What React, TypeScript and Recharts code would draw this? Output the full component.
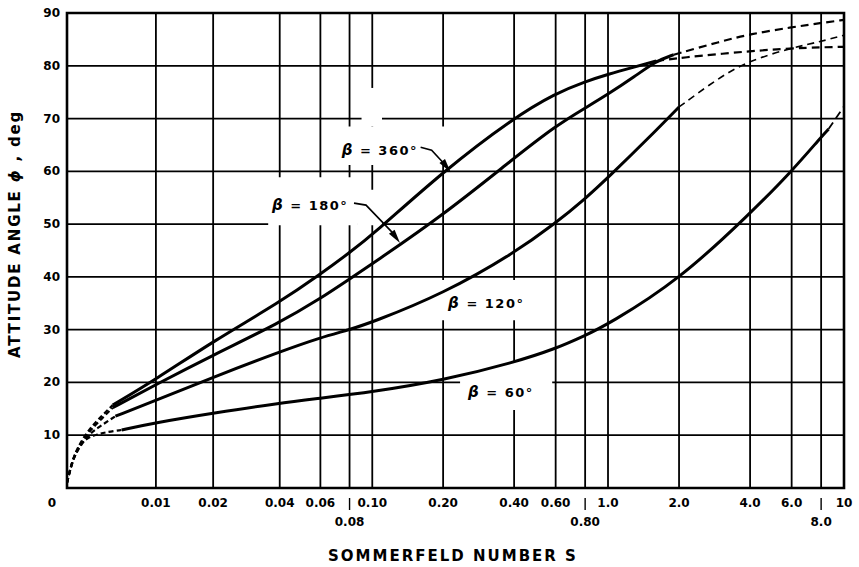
import React from 'react';
import { LineChart, Line, XAxis, YAxis, CartesianGrid, ReferenceArea, ReferenceDot } from 'recharts';

// Sommerfeld axis: log spacing for large S, running smoothly into 0 (asinh form)
const K = 0.0102;
const xu = (s: number) => Math.log10((s + Math.sqrt(s * s + K * K)) / K);

const X_TICKS = [0, 0.01, 0.02, 0.04, 0.06, 0.08, 0.1, 0.2, 0.4, 0.6, 0.8, 1, 2, 4, 6, 8, 10];
const X_LABELS = ['0', '0.01', '0.02', '0.04', '0.06', '0.08', '0.10', '0.20', '0.40', '0.60', '0.80', '1.0', '2.0', '4.0', '6.0', '8.0', '10'];
const X_LOWER_ROW = ['0.08', '0.80', '8.0'];
const Y_TICKS = [0, 10, 20, 30, 40, 50, 60, 70, 80, 90];

// beta = 360 deg
const S360_LOW = [0, 0.0005, 0.001, 0.002, 0.003, 0.0047];
const P360_LOW = [1, 5, 7.5, 10.6, 12.7, 15.7];
const S360 = [0.0047, 0.01, 0.02, 0.04, 0.06, 0.08, 0.1, 0.2, 0.4, 0.6, 0.8, 1.0, 1.3, 1.6];
const P360 = [15.7, 20.6, 27.8, 35.2, 40.5, 44.6, 47.9, 60, 70.2, 74.8, 77, 78.4, 79.8, 80.9];
const S360_HIGH = [1.6, 2, 4, 6, 8, 10];
const P360_HIGH = [80.9, 81.5, 82.8, 83.3, 83.5, 83.6];

// beta = 180 deg
const S180_LOW = [0, 0.0005, 0.001, 0.002, 0.003, 0.0047];
const P180_LOW = [1, 5, 7.3, 10.2, 12.2, 15.2];
const S180 = [0.0047, 0.01, 0.02, 0.04, 0.06, 0.08, 0.1, 0.2, 0.4, 0.6, 0.8, 1.0, 1.3, 1.6, 1.9];
const P180 = [15.2, 19.6, 25.2, 31.3, 35.9, 39.6, 42.5, 51.7, 62.5, 68.6, 72, 74.6, 78, 80.9, 82.1];
const S180_HIGH = [1.9, 3, 4, 6, 8, 10];
const P180_HIGH = [82.1, 84.6, 86, 87.3, 88.1, 88.7];

// beta = 120 deg
const S120_LOW = [0, 0.0005, 0.001, 0.002, 0.003, 0.005];
const P120_LOW = [1, 5, 7, 9.8, 11.3, 13.6];
const S120 = [0.005, 0.01, 0.02, 0.04, 0.06, 0.08, 0.1, 0.2, 0.4, 0.6, 0.8, 1.0, 1.5, 2.0];
const P120 = [13.6, 16.6, 21, 25.8, 28.5, 30, 31.4, 36.8, 44.5, 50.2, 54.8, 58.8, 66.5, 72.2];
const S120_HIGH = [2, 3, 4, 6, 8, 10];
const P120_HIGH = [72.2, 78, 81, 83.4, 84.6, 85.8];

// beta = 60 deg
const S60_LOW = [0, 0.0005, 0.001, 0.0013, 0.002, 0.003, 0.004, 0.0057];
const P60_LOW = [1, 4.8, 7, 8.2, 9.5, 10.1, 10.6, 11];
const S60 = [0.0057, 0.01, 0.02, 0.04, 0.06, 0.1, 0.2, 0.4, 0.6, 0.8, 1.0, 2.0, 4.0, 6.0, 8.0, 8.6];
const P60 = [11, 12.4, 14.2, 16.1, 17, 18.2, 20.4, 23.8, 26.4, 28.9, 31, 39.4, 52, 60, 66.5, 68];
const S60_HIGH = [8.6, 10];
const P60_HIGH = [68, 72.3];

const seg = (s: number[], p: number[]) => s.map((v, i) => ({ u: xu(v), phi: p[i] }));

const FONT = 'DejaVu Sans, Verdana, sans-serif';
const INK = '#000';

// curve labels: text start (S, phi), plus arrow offsets in px
const LABELS = [
  { s: 0.074, phi: 64, deg: '360°', arrow: [[79, -3], [90, 0], [103, 14], [109, 22]] },
  { s: 0.037, phi: 53.6, deg: '180°', arrow: [[82, -2], [94, 0], [120, 27], [128, 38]] },
  { s: 0.21, phi: 35, deg: '120°', arrow: null },
  { s: 0.255, phi: 18.2, deg: '60°', arrow: null },
];

// white patches where the grid is broken round the labels: [S1, S2, phi1, phi2]
const GAPS = [
  [0.068, 0.208, 61.2, 68.5],
  [0.09, 0.11, 68.5, 75.8],
  [0.0356, 0.0869, 49.8, 58.9],
  [0.0869, 0.11, 49.8, 56.5],
  [0.194, 0.49, 31.8, 39.4],
  [0.236, 0.58, 14.8, 23.7],
];

function XTick(props: any) {
  const { x, y, payload } = props;
  const i = X_TICKS.findIndex((t) => Math.abs(xu(t) - payload.value) < 1e-6);
  if (i < 0) return null;
  const label = X_LABELS[i];
  const lower = X_LOWER_ROW.includes(label);
  const dx = i === 0 ? -15 : 0;
  return (
    <g>
      {lower && <line x1={x} x2={x} y1={y + 10} y2={y + 22} stroke={INK} strokeWidth={1.4} />}
      <text x={x + dx} y={lower ? y + 38 : y + 19} textAnchor="middle" fontFamily={FONT} fontWeight="bold" fontSize={12} fill={INK}>
        {label}
      </text>
    </g>
  );
}

function YTick(props: any) {
  const { x, y, payload } = props;
  if (payload.value === 0) return null;
  return (
    <text x={x - 7} y={y + 4} textAnchor="end" fontFamily={FONT} fontWeight="bold" fontSize={12} fill={INK}>
      {payload.value}
    </text>
  );
}

const XTitle = () => (
  <text x={453} y={561} textAnchor="middle" fontFamily={FONT} fontWeight="bold" fontSize={15} letterSpacing={2} fill={INK}>
    SOMMERFELD NUMBER S
  </text>
);

const YTitle = () => (
  <text x={0} y={0} transform="translate(20 234) rotate(-90)" textAnchor="middle" fontFamily={FONT} fontWeight="bold" fontSize={15} letterSpacing={1.8} fill={INK}>
    ATTITUDE ANGLE <tspan fontStyle="italic">ϕ</tspan> , deg
  </text>
);

function arrowHead(a: number[], b: number[]) {
  const dx = b[0] - a[0];
  const dy = b[1] - a[1];
  const len = Math.hypot(dx, dy);
  const ux = dx / len;
  const uy = dy / len;
  const bx = b[0] - ux * 14;
  const by = b[1] - uy * 14;
  return `${b[0]},${b[1]} ${bx - uy * 3.5},${by + ux * 3.5} ${bx + uy * 3.5},${by - ux * 3.5}`;
}

function CurveLabel(deg: string, arrow: number[][] | null) {
  return (props: any) => {
    const { cx, cy } = props;
    return (
      <g transform={`translate(${cx} ${cy})`}>
        <text x={0} y={5} fontFamily={FONT} fontWeight="bold" fontSize={13} letterSpacing={1.5} fill={INK}>
          <tspan fontStyle="italic" fontSize={15}>β</tspan> = {deg}
        </text>
        {arrow && (
          <g>
            <polyline points={arrow.slice(0, 3).map((p) => p.join(',')).join(' ')} fill="none" stroke={INK} strokeWidth={1.6} />
            <polygon points={arrowHead(arrow[2], arrow[3])} fill={INK} />
          </g>
        )}
      </g>
    );
  };
}

export default function App() {
  const solid = { type: 'basis' as const, stroke: INK, strokeWidth: 3, dot: false, isAnimationActive: false, dataKey: 'phi' };
  const dashed = { ...solid, strokeWidth: 2.2, strokeDasharray: '8 5' };
  const lowDash = { ...solid, strokeWidth: 2.2, strokeDasharray: '5 3' };
  return (
    <div style={{ position: 'absolute', left: 0, top: 0, width: 859, height: 567, background: '#fff' }}>
      <LineChart width={859} height={567} margin={{ top: 13, right: 15, bottom: 0, left: 0 }}>
        <CartesianGrid stroke={INK} strokeWidth={1.8} strokeOpacity={1} />
        <XAxis
          type="number"
          dataKey="u"
          domain={[0, xu(10)]}
          ticks={X_TICKS.map(xu)}
          interval={0}
          height={79}
          tickSize={0}
          tickMargin={0}
          axisLine={false}
          tickLine={false}
          tick={<XTick />}
          allowDataOverflow
          label={<XTitle />}
        />
        <YAxis
          type="number"
          domain={[0, 90]}
          ticks={Y_TICKS}
          interval={0}
          width={67}
          tickSize={0}
          tickMargin={0}
          axisLine={false}
          tickLine={false}
          tick={<YTick />}
          allowDataOverflow
          label={<YTitle />}
        />
        {GAPS.map((g, i) => (
          <ReferenceArea key={`gap-${i}`} x1={xu(g[0])} x2={xu(g[1])} y1={g[2]} y2={g[3]} fill="#fff" fillOpacity={1} stroke="none" />
        ))}

        <Line key="l360" data={seg(S360_LOW, P360_LOW)} {...lowDash} />
        <Line key="s360" data={seg(S360, P360)} {...solid} />
        <Line key="h360" data={seg(S360_HIGH, P360_HIGH)} {...dashed} />

        <Line key="l180" data={seg(S180_LOW, P180_LOW)} {...lowDash} />
        <Line key="s180" data={seg(S180, P180)} {...solid} />
        <Line key="h180" data={seg(S180_HIGH, P180_HIGH)} {...dashed} />

        <Line key="l120" data={seg(S120_LOW, P120_LOW)} {...lowDash} />
        <Line key="s120" data={seg(S120, P120)} {...solid} />
        <Line key="h120" data={seg(S120_HIGH, P120_HIGH)} {...dashed} strokeWidth={1.6} strokeDasharray="7 5" />

        <Line key="l60" data={seg(S60_LOW, P60_LOW)} {...lowDash} />
        <Line key="s60" data={seg(S60, P60)} {...solid} />
        <Line key="h60" data={seg(S60_HIGH, P60_HIGH)} {...dashed} strokeWidth={1.8} />

        {LABELS.map((l) => (
          <ReferenceDot key={`lab-${l.deg}`} x={xu(l.s)} y={l.phi} r={0} shape={CurveLabel(l.deg, l.arrow)} />
        ))}
        <ReferenceArea x1={0} x2={xu(10)} y1={0} y2={90} fill="none" stroke={INK} strokeWidth={2.6} />
      </LineChart>
    </div>
  );
}
